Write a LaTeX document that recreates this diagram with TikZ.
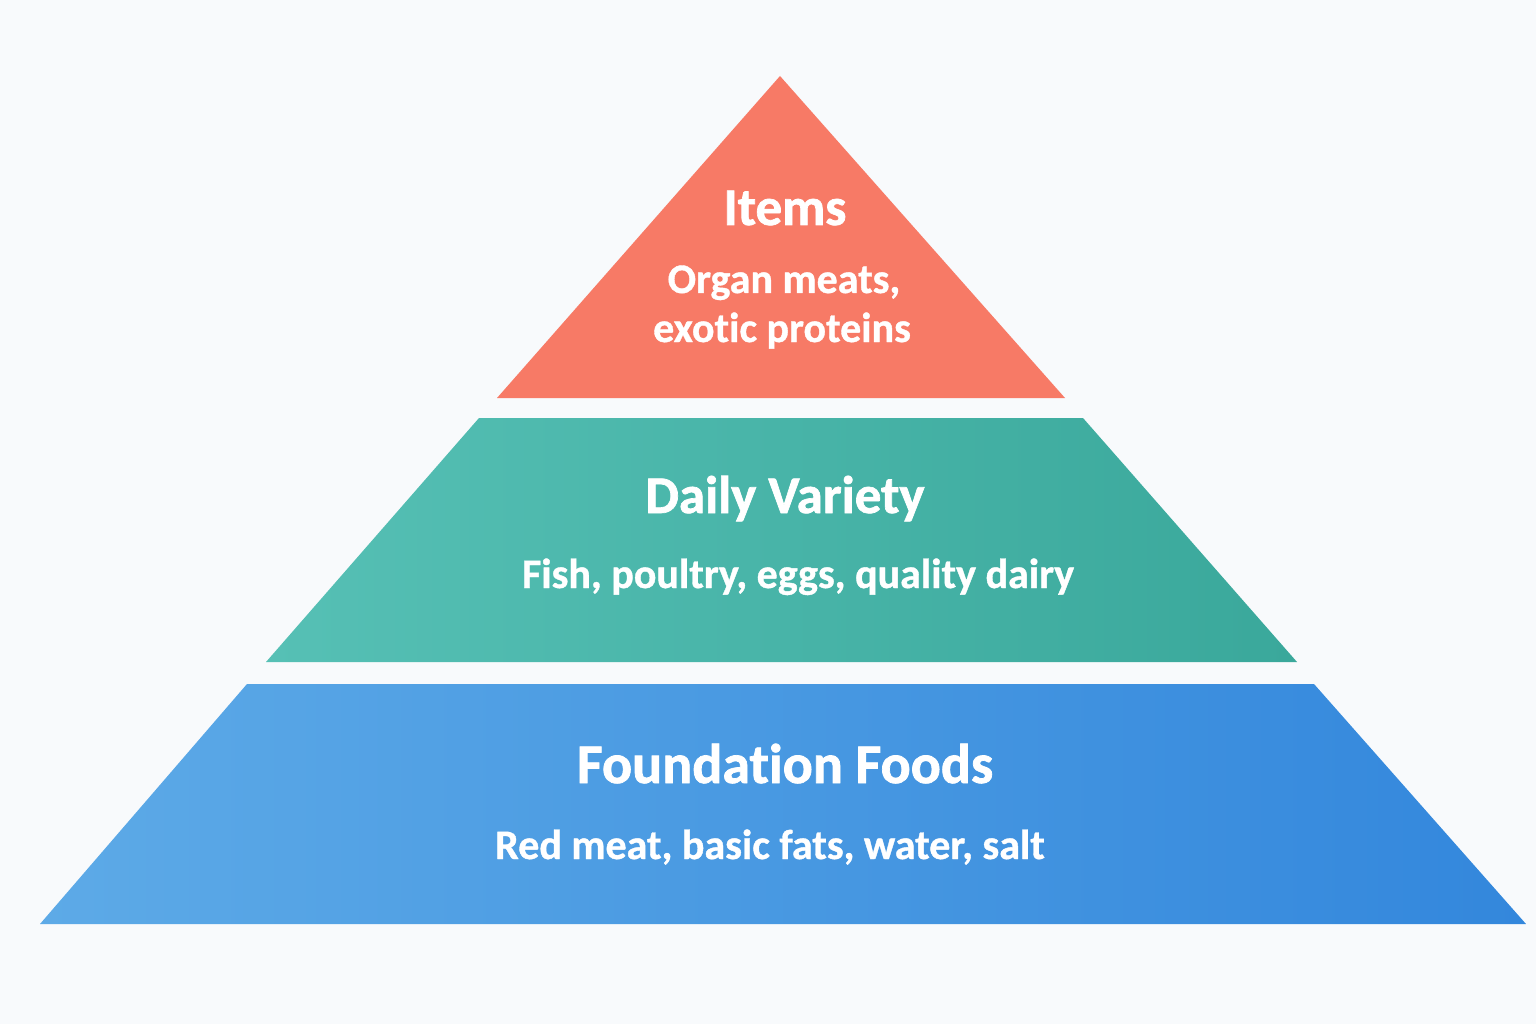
\documentclass[tikz,border=0pt]{standalone}
\usepackage{fontspec}
\setmainfont[Ligatures=NoCommon]{Carlito}
\newfontfamily\heavyfont[Ligatures=NoCommon, BoldFeatures={FakeBold=1.3}]{Carlito}
\newfontfamily\subheavyfont[Ligatures=NoCommon, BoldFeatures={FakeBold=0.9}]{Carlito}
\definecolor{bgc}{HTML}{F8FAFC}
\definecolor{redc}{HTML}{F77A66}
\definecolor{tealL}{HTML}{56C0B5}
\definecolor{tealR}{HTML}{3AA89B}
\definecolor{blueL}{HTML}{5DAAE7}
\definecolor{blueR}{HTML}{3387DC}
\tikzset{
  title/.style={text=white, font=\heavyfont\bfseries\fontsize{53}{56}\selectfont, inner sep=0pt, anchor=base},
  sub/.style={text=white, font=\subheavyfont\bfseries\fontsize{42}{51}\selectfont, inner sep=0pt, anchor=base},
}
\begin{document}
\begin{tikzpicture}[x=1pt,y=-1pt]
\fill[bgc] (0,0) rectangle (1536,1024);
\useasboundingbox (0,0) rectangle (1536,1024);
% top tier
\fill[redc] (780,76) -- (1065,398) -- (497,398) -- cycle;
% middle tier
\shade[left color=tealL, right color=tealR] (479,418) -- (1083,418) -- (1297,662) -- (266,662) -- cycle;
% bottom tier
\shade[left color=blueL, right color=blueR] (247,684) -- (1314,684) -- (1526,924) -- (40,924) -- cycle;
% texts
\node[title] (t1) at (785,225) {Items};
\node[sub] (s1a) at (784,293) {Organ meats,};
\node[sub] (s1b) at (782,342) {exotic proteins};
\node[title] (t2) at (785,513) {Daily Variety};
\node[sub] (s2) at (798,588) {Fish, poultry, eggs, quality dairy};
\node[title, font=\heavyfont\bfseries\fontsize{56}{60}\selectfont] (t3) at (785,783) {Foundation Foods};
\node[sub] (s3) at (770,859) {Red meat, basic fats, water, salt};
\end{tikzpicture}
\end{document}
